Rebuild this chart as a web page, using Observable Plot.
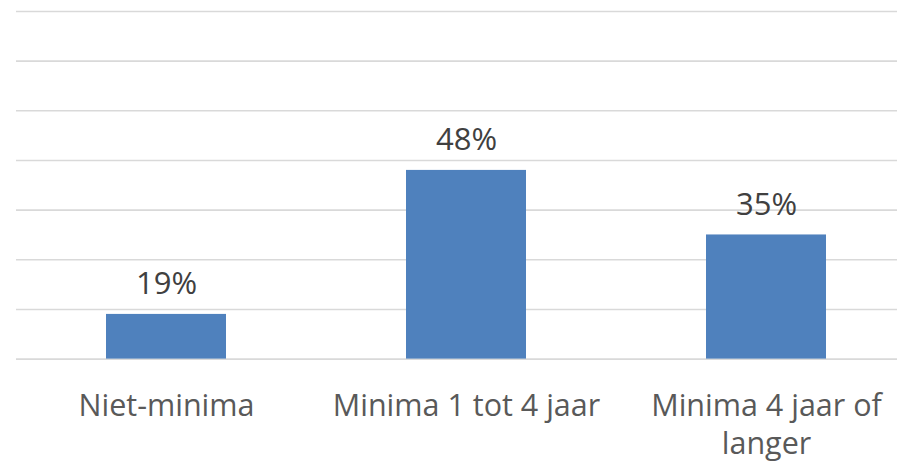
<!DOCTYPE html>
<html>
<head>
<meta charset="utf-8">
<script src="https://cdn.jsdelivr.net/npm/d3@7"></script>
<script src="https://cdn.jsdelivr.net/npm/@observablehq/plot@0.6"></script>
<style>
  html, body { margin: 0; padding: 0; background: #ffffff; }
  #chart { width: 897px; height: 465px; overflow: hidden; }
</style>
</head>
<body>
<div id="chart"></div>
<script>
const categories = ["Niet-minima", "Minima 1 tot 4 jaar", "Minima 4 jaar of langer"];
const tickLabels = ["Niet-minima", "Minima 1 tot 4 jaar", "Minima 4 jaar of\nlanger"];
const values = [19, 48, 35];
const gridTicks = [10, 20, 30, 40, 50, 60, 70, 80];

const data = categories.map((c, i) => ({ category: c, value: values[i] }));
const labelOf = new Map(categories.map((c, i) => [c, tickLabels[i]]));

const chart = Plot.plot({
  width: 897,
  height: 465,
  marginTop: 11,
  marginBottom: 106.4,
  marginLeft: 16,
  marginRight: 0,
  style: { fontFamily: "'Open Sans', sans-serif", background: "#ffffff" },
  x: { domain: categories, range: [15.75, 917], paddingInner: 0.6, paddingOuter: 0.3, label: null },
  y: { domain: [10, 80], axis: null },
  marks: [
    Plot.ruleY(gridTicks, { stroke: "#d9d9d9", strokeWidth: 1.6 }),
    Plot.barY(data, { x: "category", y1: 10, y2: "value", fill: "#4f81bd" }),
    Plot.text(data, {
      x: "category", y: "value", text: d => d.value + "%",
      dy: -30, lineAnchor: "middle", fontSize: 31, fill: "#404040"
    }),
    Plot.axisX({
      tickSize: 0, tickPadding: 30, fontSize: 30.5, lineHeight: 1.25, label: null,
      tickFormat: d => labelOf.get(d), fill: "#595959", lineAnchor: "top"
    })
  ]
});
document.getElementById("chart").appendChild(chart);
</script>
</body>
</html>
